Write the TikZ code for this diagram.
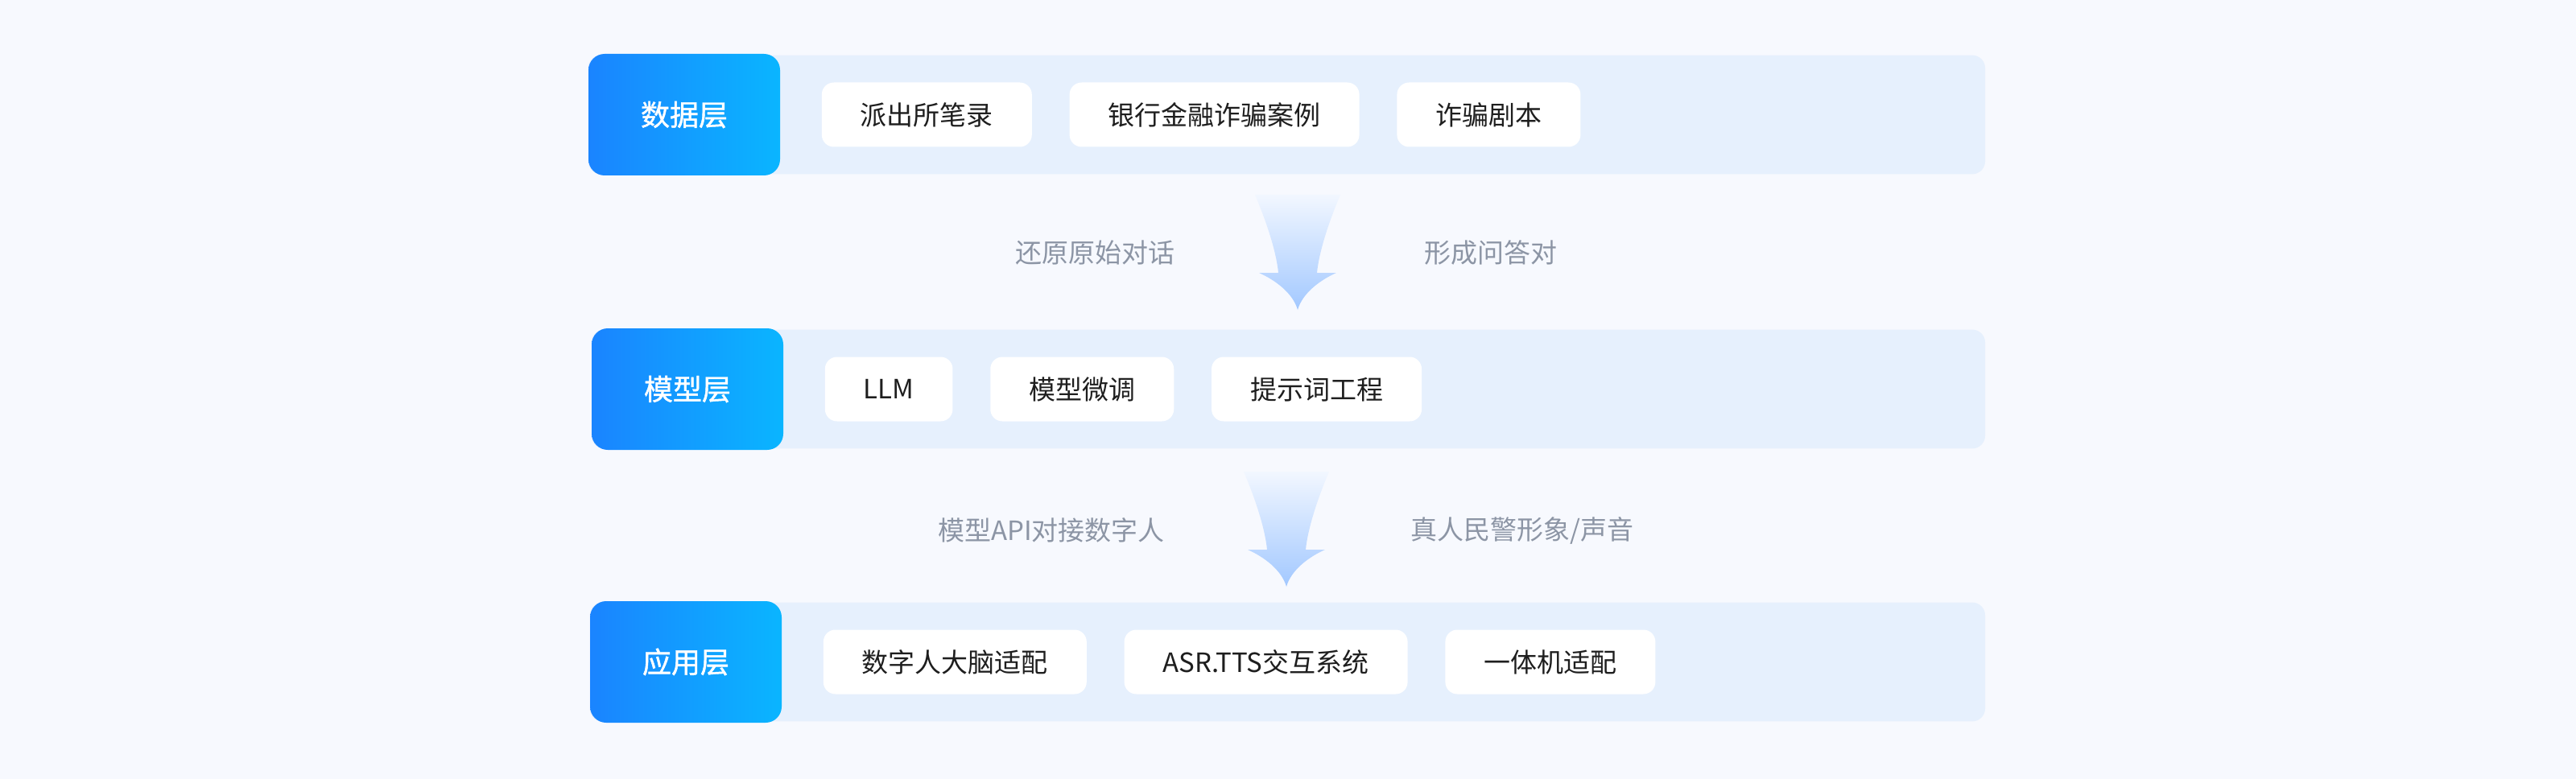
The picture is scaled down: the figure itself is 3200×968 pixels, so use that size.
\documentclass[tikz,border=0pt]{standalone}
\usepackage{fontspec}
\setmainfont{Noto Sans CJK SC}
\newfontfamily\labelfont[RawFeature={embolden=1.2}]{Noto Sans CJK SC}
\usetikzlibrary{positioning, calc, backgrounds}
\definecolor{Cbg}{HTML}{F7F9FE}
\definecolor{Cband}{HTML}{E6F0FD}
\definecolor{Cleft}{HTML}{1A84FF}
\definecolor{Cright}{HTML}{0AB5FF}
\definecolor{Ctext}{HTML}{1E1E1E}
\definecolor{Cgray}{HTML}{8C95A5}
\definecolor{Carrtop}{HTML}{F2F7FF}
\definecolor{Carrbot}{HTML}{A2C8FF}
\tikzset{
    layerbox/.style={
        rectangle, rounded corners=10pt, left color=Cleft, right color=Cright,
        draw=none, text=white, minimum width=119pt, minimum height=75.5pt,
        inner sep=0pt, font=\fontsize{18pt}{20pt}\labelfont
    },
    band/.style={fill=Cband, rounded corners=8pt},
    itembox/.style={
        rectangle, rounded corners=7.5pt, fill=white, text=Ctext,
        minimum height=40pt, inner xsep=24pt, inner ysep=0pt,
        font=\fontsize{16.5pt}{20pt}\selectfont
    },
    flowlabel/.style={text=Cgray, inner sep=0pt, font=\fontsize{16.5pt}{20pt}\selectfont},
    flowarrow/.style={top color=Carrtop, bottom color=Carrbot, draw=none},
}
% 下箭头（从顶端中心往下）
\newcommand\downarrowshape[1]{%
    \shade[flowarrow, shift={(#1)}]
        (-53,0) .. controls (-36,40) and (-26,75) .. (-24,97)
        -- (-48,97) .. controls (-28,106) and (-6,122) .. (0,143)
        .. controls (6,122) and (28,106) .. (48,97)
        -- (24,97) .. controls (26,75) and (36,40) .. (53,0) -- cycle;%
}

\begin{document}
\begin{tikzpicture}[x=0.5pt, y=-0.5pt]

    % ── 画布 ─────────────────────────────────────────────
    \useasboundingbox (0,0) rectangle (3200,968);
    \coordinate (bandend) at (2466,0);

    % ── 第一行：数据层 ────────────────────────────────────
    \node [layerbox] (data) at (850,142.5) {数据层};
    \node [itembox, right=25.5pt of data] (police) {派出所笔录};
    \node [itembox, right=23pt of police] (bank) {银行金融诈骗案例};
    \node [itembox, right=23pt of bank] (script) {诈骗剧本};

    % ── 第二行：模型层 ────────────────────────────────────
    \node [layerbox] (model) at (854,483.5) {模型层};
    \node [itembox, right=25.5pt of model] (llm) {LLM};
    \node [itembox, right=23pt of llm] (tune) {模型微调};
    \node [itembox, right=23pt of tune] (prompt) {提示词工程};

    % ── 第三行：应用层 ────────────────────────────────────
    \node [layerbox] (app) at (852,822.5) {应用层};
    \node [itembox, right=25.5pt of app] (brain) {数字人大脑适配};
    \node [itembox, right=23pt of brain] (asrtts) {ASR.TTS交互系统};
    \node [itembox, right=23pt of asrtts] (kiosk) {一体机适配};

    % ── 底色条 ───────────────────────────────────────────
    \begin{scope}[on background layer]
        \fill [Cbg] (0,0) rectangle (3200,968);
        \path [band] ($(data.north west)+(0,2)$) rectangle ($(data.south west -| bandend)+(0,-2)$);
        \path [band] ($(model.north west)+(0,2)$) rectangle ($(model.south west -| bandend)+(0,-2)$);
        \path [band] ($(app.north west)+(0,2)$) rectangle ($(app.south west -| bandend)+(0,-2)$);
    \end{scope}

    % ── 箭头 ─────────────────────────────────────────────
    \coordinate (arrow1) at (1612,242);
    \coordinate (arrow2) at (1598,586);
    \downarrowshape{arrow1}
    \downarrowshape{arrow2}

    % ── 箭头两侧说明 ─────────────────────────────────────
    \node [flowlabel] (restore) at (1360,314) {还原原始对话};
    \node [flowlabel] (qapair) at (1852,314) {形成问答对};
    \node [flowlabel] (api) at (1306,659) {模型API对接数字人};
    \node [flowlabel] (avatar) at (1891,659) {真人民警形象/声音};

\end{tikzpicture}
\end{document}
